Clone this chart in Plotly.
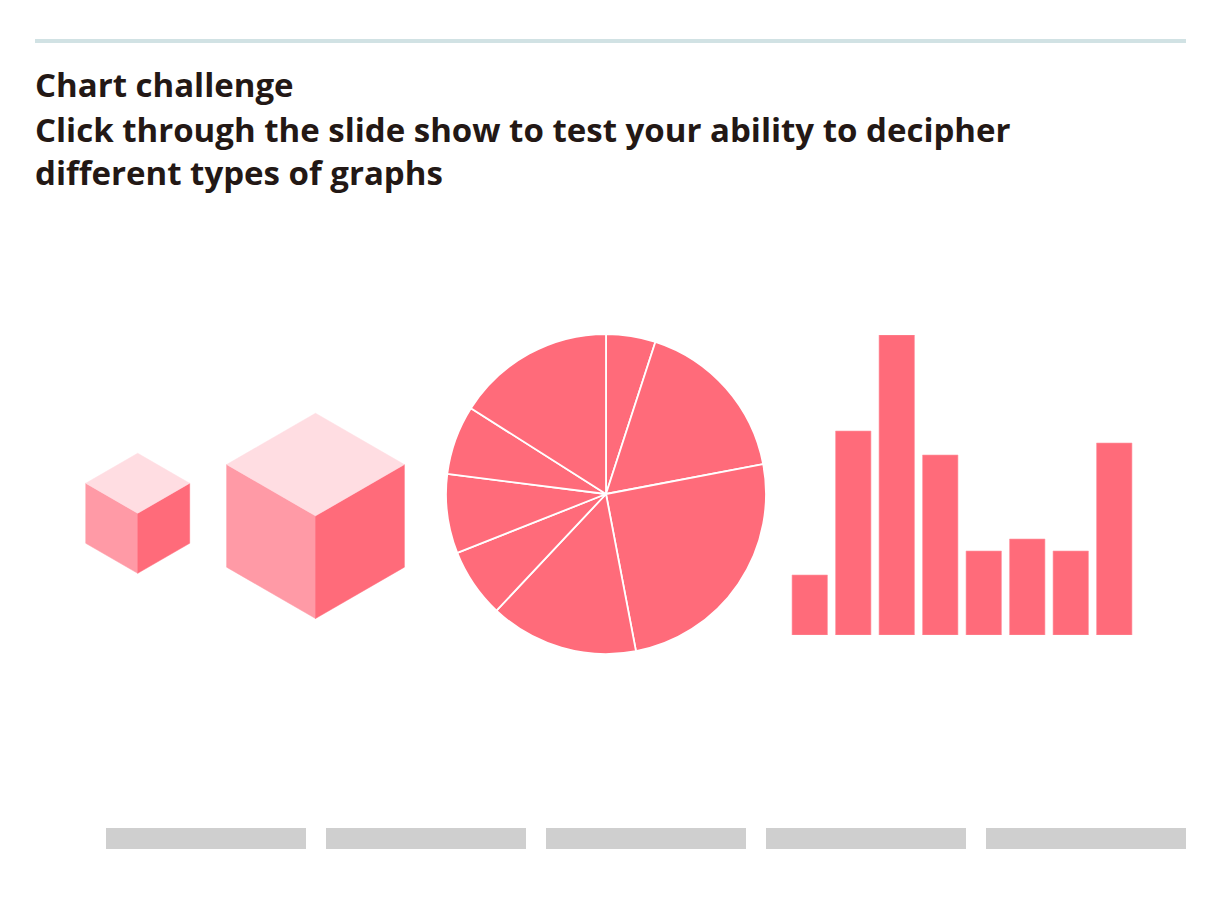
import plotly.graph_objects as go

# ---- data ----
pie_values = [5, 17, 25, 15, 7, 8, 7, 16]
bar_categories = ["A", "B", "C", "D", "E", "F", "G", "H"]
bar_values = [5, 17, 25, 15, 7, 8, 7, 16]
cube_values = [5, 25]
title_lines = [
    "Chart challenge",
    "Click through the slide show to test your ability to decipher",
    "different types of graphs",
]
slide_count = 5

# ---- styles / layout constants ----
W, H = 1227, 920
PINK = "#FF6B7A"
PINK_MID = "#FF9AA6"
PINK_LIGHT = "#FFDDE2"
FONT = "Open Sans"

fig = go.Figure()

# Cubes (volume proportional to value), drawn in pixel coordinate axes
cube_scale = 35.1  # px per cube-root unit
cube_anchors = [(137.7, 573.3), (315.5, 618.5)]  # bottom vertex (x, y)
c30 = 0.8660254
for v, (cx, by) in zip(cube_values, cube_anchors):
    s = cube_scale * v ** (1 / 3)
    bottom = (cx, by)
    front = (cx, by - s)
    lb = (cx - c30 * s, by - 0.5 * s)
    lt = (cx - c30 * s, by - 1.5 * s)
    rb = (cx + c30 * s, by - 0.5 * s)
    rt = (cx + c30 * s, by - 1.5 * s)
    top = (cx, by - 2 * s)
    faces = [
        ([lt, front, bottom, lb], PINK_MID),
        ([front, rt, rb, bottom], PINK),
        ([top, rt, front, lt], PINK_LIGHT),
    ]
    for pts, col in faces:
        xs = [p[0] for p in pts] + [pts[0][0]]
        ys = [p[1] for p in pts] + [pts[0][1]]
        fig.add_trace(go.Scatter(x=xs, y=ys, mode="lines", fill="toself",
                                 fillcolor=col, line=dict(width=0.5, color=col),
                                 hoverinfo="skip", showlegend=False,
                                 xaxis="x", yaxis="y"))

# Pie
pie_cx, pie_cy, pie_r = 606, 494, 160
fig.add_trace(go.Pie(
    values=pie_values, sort=False, direction="clockwise", rotation=0,
    marker=dict(colors=[PINK] * len(pie_values), line=dict(color="white", width=1.8)),
    textinfo="none", hoverinfo="value", showlegend=False,
    domain=dict(x=[(pie_cx - pie_r) / W, (pie_cx + pie_r) / W],
                y=[1 - (pie_cy + pie_r) / H, 1 - (pie_cy - pie_r) / H]),
))

# Bars
fig.add_trace(go.Bar(
    x=bar_categories, y=bar_values, marker=dict(color=PINK, line=dict(color="#FF9AA6", width=0.6)),
    xaxis="x2", yaxis="y2", showlegend=False, hoverinfo="y",
))

# Title annotations
title_y = [85, 129, 173]
for txt, yy in zip(title_lines, title_y):
    fig.add_annotation(text=f"<b>{txt}</b>", x=33 / W, y=1 - yy / H, xref="paper", yref="paper",
                       xanchor="left", yanchor="middle", showarrow=False,
                       font=dict(family=FONT, size=33, color="#231815"))

shapes = []
# top rule
shapes.append(dict(type="rect", xref="x", yref="y", x0=35, x1=1186, y0=39, y1=43,
                   fillcolor="#D1E2E4", line=dict(width=0), layer="below"))
# slide placeholders
for i in range(slide_count):
    x0 = 106 + i * 220
    shapes.append(dict(type="rect", xref="x", yref="y", x0=x0, x1=x0 + 200, y0=828, y1=849,
                       fillcolor="#CFCFCF", line=dict(width=0), layer="below"))

fig.update_layout(
    width=W, height=H, margin=dict(l=0, r=0, t=0, b=0),
    paper_bgcolor="white", plot_bgcolor="white",
    xaxis=dict(range=[0, W], domain=[0, 1], visible=False, fixedrange=True),
    yaxis=dict(range=[H, 0], domain=[0, 1], visible=False, fixedrange=True),
    xaxis2=dict(domain=[788 / W, 1136 / W], range=[-0.5, 7.5], visible=False, anchor="y2"),
    yaxis2=dict(domain=[1 - 635 / H, 1 - 335 / H], range=[0, 25], visible=False, anchor="x2"),
    bargap=0.186,
    shapes=shapes,
)

fig.write_html("out.html")
